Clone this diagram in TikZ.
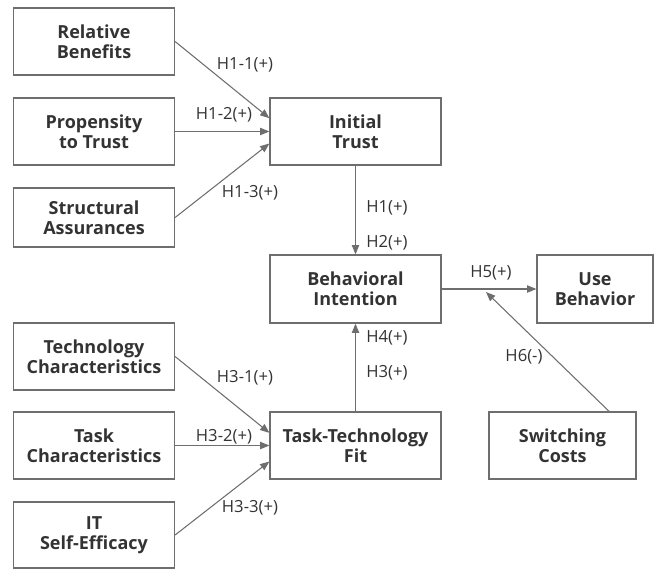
\documentclass[tikz,border=0pt]{standalone}
\usepackage{fontspec}
\setsansfont{Open Sans}
\usetikzlibrary{arrows.meta}
\definecolor{linegray}{HTML}{6E6E6E}
\definecolor{textgray}{HTML}{333333}

\begin{document}
\begin{tikzpicture}[x=0.75pt,y=-0.75pt,
	box/.style={draw=linegray, line width=0.9pt, text=textgray,
		font=\sffamily\bfseries\fontsize{13.5}{15}\selectfont,
		align=center, inner sep=0pt, minimum height=50.25pt},
	arr/.style={draw=linegray, line width=0.8pt, -{Triangle[width=5.5pt,length=7pt]}},
	lab/.style={text=textgray, font=\sffamily\fontsize{12.5}{14}\selectfont, inner sep=0pt}]
	
	\useasboundingbox (0,0) rectangle (654,569);
	
	% trust side
	\node[box, minimum width=120.75pt] (rb) at (94,41.5) {Relative\\Benefits};
	\node[box, minimum width=120.75pt] (pt) at (94,131.5) {Propensity\\to Trust};
	\node[box, minimum width=120.75pt, minimum height=44.25pt] (sa) at (94,217.5) {Structural\\Assurances};
	\node[box, minimum width=128.25pt] (it) at (355.5,131.5) {Initial\\Trust};
	
	% fit side
	\node[box, minimum width=120.75pt] (tc) at (94,356.5) {Technology\\Characteristics};
	\node[box, minimum width=120.75pt] (tk) at (94,445.5) {Task\\Characteristics};
	\node[box, minimum width=120.75pt, minimum height=49.5pt] (se) at (94,535) {IT\\Self-Efficacy};
	\node[box, minimum width=128.25pt] (ttf) at (355.5,445.5) {Task-Technology\\Fit};
	
	% outcome
	\node[box, minimum width=128.25pt, minimum height=51pt] (bi) at (355.5,289) {Behavioral\\Intention};
	\node[box, minimum width=87pt, minimum height=51pt] (ub) at (595,289) {Use\\Behavior};
	\node[box, minimum width=110.25pt] (sc) at (562.5,445.5) {Switching\\Costs};
	\coordinate (h6end) at (486,292);
	
	\draw[arr] (rb.east) -- ([yshift=10pt]it.west);
	\draw[arr] (pt.east) -- (it.west);
	\draw[arr] (sa.east) -- ([yshift=-9pt]it.west);
	\draw[arr] (tc.east) -- ([yshift=9.5pt]ttf.west);
	\draw[arr] (tk.east) -- (ttf.west);
	\draw[arr] (se.east) -- ([yshift=-12pt]ttf.west);
	\draw[arr] (it) -- (bi);
	\draw[arr] (ttf) -- (bi);
	\draw[arr] (bi) -- (ub);
	\draw[arr] ([xshift=35pt]sc.north) -- (h6end);
	
	\node[lab] (l11) at (245,65) {H1-1(+)};
	\node[lab] (l12) at (224,115) {H1-2(+)};
	\node[lab] (l13) at (250,193) {H1-3(+)};
	\node[lab] (l1) at (387,208) {H1(+)};
	\node[lab] (l2) at (387,243) {H2(+)};
	\node[lab] (l5) at (491,273) {H5(+)};
	\node[lab] (l4) at (387,338) {H4(+)};
	\node[lab] (l3) at (387,373) {H3(+)};
	\node[lab] (l6) at (524,357) {H6(-)};
	\node[lab] (l31) at (245,378) {H3-1(+)};
	\node[lab] (l32) at (224,437) {H3-2(+)};
	\node[lab] (l33) at (250,508) {H3-3(+)};
\end{tikzpicture}
\end{document}
